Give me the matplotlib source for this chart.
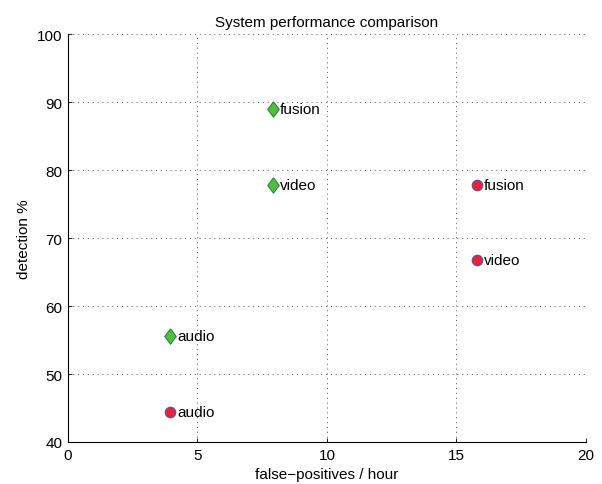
import matplotlib
matplotlib.use("Agg")
import matplotlib.pyplot as plt

plt.rcParams['font.family'] = ['Liberation Sans', 'DejaVu Sans']

labels = ["audio", "video", "fusion"]
sysA_x = [3.95, 7.9, 7.9]
sysA_y = [55.6, 77.8, 88.9]
sysB_x = [3.95, 15.8, 15.8]
sysB_y = [44.4, 66.7, 77.8]

diamond = [(0, 1), (0.75, 0), (0, -1), (-0.75, 0), (0, 1)]

fig = plt.figure(figsize=(6.02, 4.85), dpi=100)
ax = fig.add_axes([0.113, 0.0866, 0.860, 0.8412])

ax.plot(sysA_x, sysA_y, linestyle='none', marker=diamond, ms=11,
        markerfacecolor='#55bb44', markeredgecolor='#228833', markeredgewidth=0.8, zorder=3)
ax.plot(sysB_x, sysB_y, linestyle='none', marker='o', ms=7.5,
        markerfacecolor='#ee2233', markeredgecolor='#5555aa', markeredgewidth=0.9, zorder=3)
for x, y, t in zip(sysA_x, sysA_y, labels):
    ax.annotate(t, (x, y), xytext=(5, 0), textcoords='offset points',
                va='center', ha='left', fontsize=11)
for x, y, t in zip(sysB_x, sysB_y, labels):
    ax.annotate(t, (x, y), xytext=(5, 0), textcoords='offset points',
                va='center', ha='left', fontsize=11)

ax.set_xlim(0, 20)
ax.set_ylim(40, 100)
ax.set_xticks([0, 5, 10, 15, 20])
ax.set_yticks([40, 50, 60, 70, 80, 90, 100])
ax.grid(True, linestyle=(0, (1, 4)), color='#555555', linewidth=0.7)
ax.spines['top'].set_visible(False)
ax.spines['right'].set_visible(False)
ax.tick_params(direction='in', length=3, width=0.6, labelsize=11, pad=4)
ax.set_xlabel("false\u2212positives / hour", fontsize=11)
ax.set_ylabel("detection %", fontsize=11)
ax.set_title("System performance comparison", fontsize=11)

fig.savefig("out.png", dpi=100)
